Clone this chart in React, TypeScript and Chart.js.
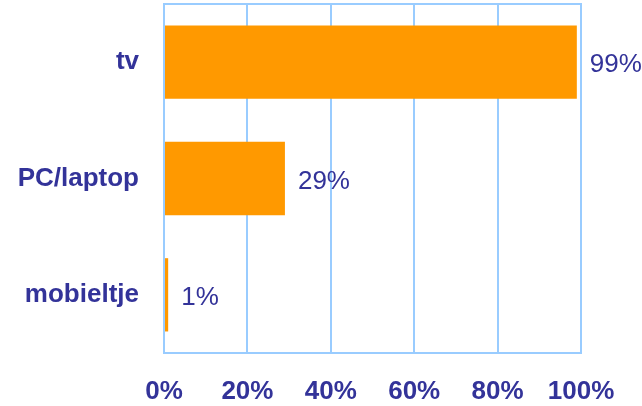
import React, { useEffect, useRef } from "react";
import { Chart, registerables } from "chart.js";

Chart.register(...registerables);

const categories = ["tv", "PC/laptop", "mobieltje"];
const values = [99, 29, 1];
const xTicks = [0, 20, 40, 60, 80, 100];

const TEXT = "#333399";
const GRID = "#99CCFF";
const BAR = "#FF9900";
const FONT = "'Liberation Sans', Arial, sans-serif";

const framePlugin = {
  id: "frame",
  afterDatasetsDraw(chart: any) {
    const { ctx, chartArea } = chart;
    ctx.save();
    ctx.strokeStyle = GRID;
    ctx.lineWidth = 2;
    ctx.strokeRect(chartArea.left, chartArea.top, chartArea.right - chartArea.left, chartArea.bottom - chartArea.top);
    ctx.restore();
    const meta = chart.getDatasetMeta(0);
    ctx.save();
    ctx.fillStyle = TEXT;
    ctx.font = `26px ${FONT}`;
    ctx.textAlign = "left";
    ctx.textBaseline = "middle";
    meta.data.forEach((bar: any, i: number) => {
      ctx.fillText(values[i] + "%", bar.x + 13, bar.y + 3);
    });
    ctx.restore();
  },
};

export default function App() {
  const ref = useRef<HTMLCanvasElement>(null);
  useEffect(() => {
    document.body.style.margin = "0";
    const chart = new Chart(ref.current!, {
      type: "bar",
      data: {
        labels: categories,
        datasets: [
          {
            data: values,
            backgroundColor: BAR,
            barPercentage: 0.63,
            categoryPercentage: 1,
          },
        ],
      },
      options: {
        indexAxis: "y",
        animation: false,
        responsive: false,
        devicePixelRatio: 1,
        layout: { padding: { top: 4, right: 61, bottom: 0, left: 0 } },
        plugins: { legend: { display: false }, tooltip: { enabled: false } },
        scales: {
          x: {
            min: 0,
            max: 100,
            afterBuildTicks: (s: any) => {
              s.ticks = xTicks.map((v) => ({ value: v }));
            },
            afterFit: (s: any) => {
              s.height = 53;
            },
            grid: { color: GRID, lineWidth: 2, drawTicks: false },
            border: { display: false },
            ticks: {
              color: TEXT,
              font: { family: FONT, size: 26, weight: "bold" },
              padding: 23,
              callback: (v: any) => v + "%",
              maxRotation: 0,
            },
          },
          y: {
            afterFit: (s: any) => {
              s.width = 164;
              s.paddingTop = 0;
              s.paddingBottom = 0;
            },
            grid: { display: false, drawTicks: false },
            border: { display: false },
            ticks: {
              color: TEXT,
              font: { family: FONT, size: 26, weight: "bold" },
              padding: 25,
            },
          },
        },
      },
      plugins: [framePlugin],
    });
    return () => chart.destroy();
  }, []);
  return (
    <div style={{ width: 642, height: 406 }}>
      <canvas ref={ref} width={642} height={406} />
    </div>
  );
}
